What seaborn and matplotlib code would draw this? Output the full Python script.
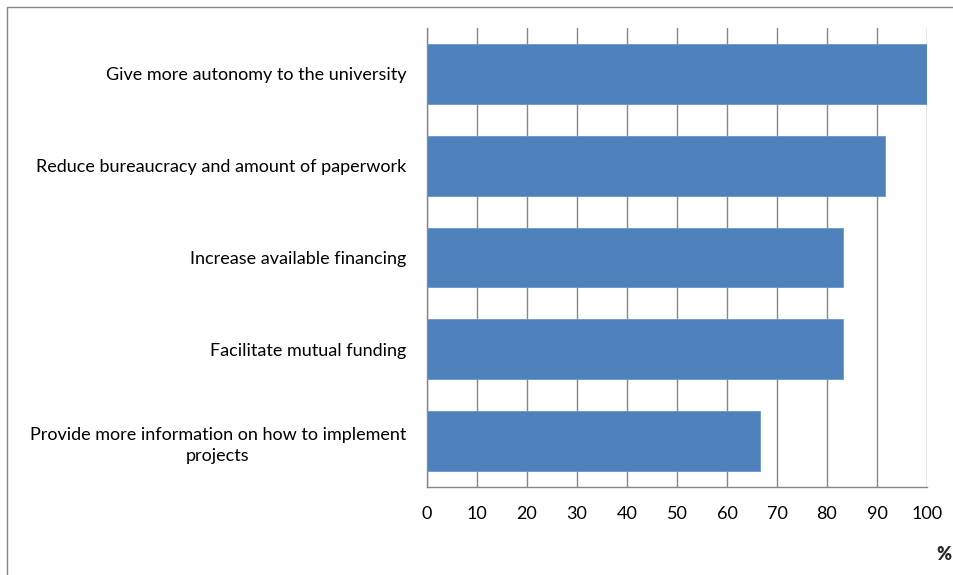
import matplotlib
matplotlib.use("Agg")
import matplotlib.pyplot as plt
import matplotlib.patches as mpatches
import seaborn as sns
import pandas as pd

categories = [
    "Give more autonomy to the university",
    "Reduce bureaucracy and amount of paperwork",
    "Increase available financing",
    "Facilitate mutual funding",
    "Provide more information on how to implement\nprojects",
]
values = [100.0, 91.7, 83.3, 83.3, 66.7]
x_ticks = [0, 10, 20, 30, 40, 50, 60, 70, 80, 90, 100]

sns.set_theme(style="white")
plt.rcParams["font.family"] = ["Lato", "DejaVu Sans"]

df = pd.DataFrame({"measure": categories, "pct": values})

fig = plt.figure(figsize=(9.54, 5.75), dpi=100)
ax = fig.add_axes([427 / 954, 1 - 487 / 575, 500 / 954, 459 / 575])

sns.barplot(data=df, y="measure", x="pct", orient="h", color="#4F81BD",
            saturation=1, width=0.65, ax=ax, zorder=3,
            edgecolor="#6A95CB", linewidth=0.6)

ax.set_xlim(0, 100)
ax.set_ylim(len(categories) - 0.5, -0.5)
ax.set_xticks(x_ticks)
ax.set_xticklabels([str(t) for t in x_ticks], fontsize=13, color="black")
ax.set_xlabel("")
ax.set_ylabel("")

# category labels without major ticks; minor ticks mark category boundaries
ax.set_yticks(range(len(categories)))
ax.set_yticklabels(categories, fontsize=13, color="black",
                   multialignment="center", linespacing=1.45)
ax.tick_params(axis="y", which="major", length=0, pad=15)
ax.set_yticks([i - 0.5 for i in range(len(categories) + 1)], minor=True)
ax.tick_params(axis="y", which="minor", length=6, width=1, color="#868686", direction="out")
ax.tick_params(axis="x", which="major", length=6, width=1, color="#868686",
               direction="out", pad=8)

ax.grid(axis="x", color="#868686", linewidth=1, zorder=0)
ax.set_axisbelow(True)
for side in ["top", "right"]:
    ax.spines[side].set_visible(False)
for side in ["left", "bottom"]:
    ax.spines[side].set_color("#868686")
    ax.spines[side].set_linewidth(1)

fig.text(944 / 954, 1 - 555 / 575, "%", fontsize=13, fontweight="heavy",
         ha="center", va="center")

# outer chart frame
fig.patches.append(mpatches.Rectangle((7 / 954, -0.1), 1.2, 1 - 7 / 575 + 0.1,
                                      transform=fig.transFigure, fill=False,
                                      edgecolor="#868686", linewidth=1))

fig.savefig("out.png", dpi=100)
